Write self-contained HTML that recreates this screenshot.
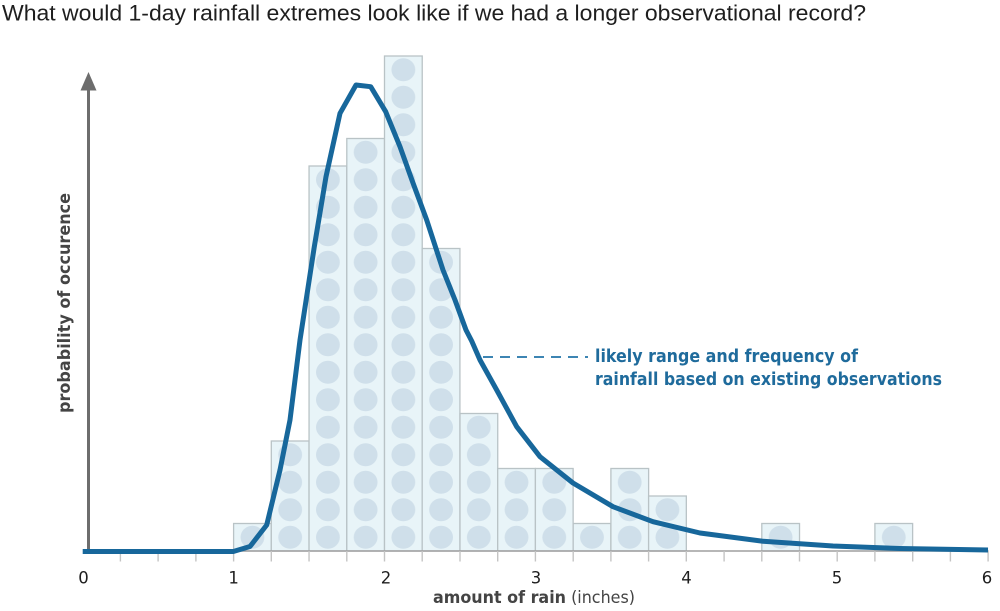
<!DOCTYPE html>
<html>
<head>
<meta charset="utf-8">
<style>
  html,body{margin:0;padding:0;background:#fff;}
  svg{display:block;}
</style>
</head>
<body>
<svg width="1000" height="611" viewBox="0 0 1000 611" xmlns="http://www.w3.org/2000/svg">
  <defs>
    <pattern id="p" patternUnits="userSpaceOnUse" x="233.6" y="551" width="37.725" height="27.5">
      <rect x="0" y="0" width="37.725" height="27.5" fill="#e8f4f8"/>
      <ellipse cx="18.86" cy="13.75" rx="11.9" ry="11.5" fill="#cfdfea"/>
    </pattern>
  </defs>

  <!-- Title -->
  <text x="2" y="20.7" font-family="Liberation Sans, DejaVu Sans, sans-serif" font-size="22" fill="#1e1e1e" textLength="864" lengthAdjust="spacingAndGlyphs">What would 1-day rainfall extremes look like if we had a longer observational record?</text>

  <!-- Bars -->
  <g stroke="#b9c3c6" stroke-width="1.3" fill="url(#p)">
    <rect x="233.6" y="523.5" width="37.725" height="27.5"/>
    <rect x="271.3" y="441" width="37.725" height="110"/>
    <rect x="309.05" y="166" width="37.725" height="385"/>
    <rect x="346.8" y="138.5" width="37.725" height="412.5"/>
    <rect x="384.5" y="56" width="37.725" height="495"/>
    <rect x="422.2" y="248.5" width="37.725" height="302.5"/>
    <rect x="460.0" y="413.5" width="37.725" height="137.5"/>
    <rect x="497.7" y="468.5" width="37.725" height="82.5"/>
    <rect x="535.4" y="468.5" width="37.725" height="82.5"/>
    <rect x="573.2" y="523.5" width="37.725" height="27.5"/>
    <rect x="610.9" y="468.5" width="37.725" height="82.5"/>
    <rect x="648.6" y="496" width="37.725" height="55"/>
    <rect x="761.8" y="523.5" width="37.725" height="27.5"/>
    <rect x="874.9" y="523.5" width="37.725" height="27.5"/>
  </g>

  <!-- Baseline and ticks -->
  <line x1="86" y1="551" x2="988.5" y2="551" stroke="#9f9f9f" stroke-width="1.6"/>
  <g stroke="#c4c4c4" stroke-width="1.4">
    <line x1="120.4" y1="551" x2="120.4" y2="561.5"/>
    <line x1="158.1" y1="551" x2="158.1" y2="561.5"/>
    <line x1="195.9" y1="551" x2="195.9" y2="561.5"/>
    <line x1="233.6" y1="551" x2="233.6" y2="561.5"/>
    <line x1="271.3" y1="551" x2="271.3" y2="561.5"/>
    <line x1="309.05" y1="551" x2="309.05" y2="561.5"/>
    <line x1="346.8" y1="551" x2="346.8" y2="561.5"/>
    <line x1="384.5" y1="551" x2="384.5" y2="561.5"/>
    <line x1="422.2" y1="551" x2="422.2" y2="561.5"/>
    <line x1="460.0" y1="551" x2="460.0" y2="561.5"/>
    <line x1="497.7" y1="551" x2="497.7" y2="561.5"/>
    <line x1="535.4" y1="551" x2="535.4" y2="561.5"/>
    <line x1="573.2" y1="551" x2="573.2" y2="561.5"/>
    <line x1="610.9" y1="551" x2="610.9" y2="561.5"/>
    <line x1="648.6" y1="551" x2="648.6" y2="561.5"/>
    <line x1="686.3" y1="551" x2="686.3" y2="561.5"/>
    <line x1="724.1" y1="551" x2="724.1" y2="561.5"/>
    <line x1="761.8" y1="551" x2="761.8" y2="561.5"/>
    <line x1="799.5" y1="551" x2="799.5" y2="561.5"/>
    <line x1="837.2" y1="551" x2="837.2" y2="561.5"/>
    <line x1="874.9" y1="551" x2="874.9" y2="561.5"/>
    <line x1="912.7" y1="551" x2="912.7" y2="561.5"/>
    <line x1="950.4" y1="551" x2="950.4" y2="561.5"/>
    <line x1="988.1" y1="551" x2="988.1" y2="561.5"/>
  </g>

  <!-- Tick labels -->
  <g font-family="DejaVu Sans, Liberation Sans, sans-serif" font-size="16.5" fill="#1e1e1e" text-anchor="middle">
    <text x="83.5" y="583.5">0</text>
    <text x="233.6" y="583.5">1</text>
    <text x="386" y="583.5">2</text>
    <text x="536" y="583.5">3</text>
    <text x="686.5" y="583.5">4</text>
    <text x="837" y="583.5">5</text>
    <text x="987" y="583.5">6</text>
  </g>

  <!-- X axis title -->
  <text x="433" y="603" font-family="DejaVu Sans, Liberation Sans, sans-serif" font-size="17" fill="#444" textLength="202" lengthAdjust="spacingAndGlyphs"><tspan font-weight="bold">amount of rain</tspan> (inches)</text>

  <!-- Y axis -->
  <line x1="88.5" y1="88" x2="88.5" y2="552" stroke="#6d6d6d" stroke-width="3"/>
  <polygon points="80.5,90.5 96.5,90.5 88.5,72" fill="#6d6d6d"/>

  <!-- Y axis title -->
  <text transform="translate(70,303) rotate(-90)" text-anchor="middle" font-family="DejaVu Sans, Liberation Sans, sans-serif" font-size="17" font-weight="bold" fill="#444" textLength="220" lengthAdjust="spacingAndGlyphs">probability of occurence</text>

  <!-- Curve -->
  <polyline fill="none" stroke="#17679b" stroke-width="5" stroke-linejoin="round" stroke-linecap="butt"
    points="82.7,551.5 233.3,551.5 250,546.5 266.7,525 280,470 290,420 300,340 314.3,246.7 326,176.7 340,113.3 356,85 370.7,86.7 385.7,111.7 400,146.7 413,183 426.7,220 443,270 455,300 466,330 471.7,341 480,360 496.7,390 516.7,426.7 540,456.7 573,483 613,506.7 653,521.7 700,533 763,541.3 833,546 900,548.5 988,550"/>

  <!-- Annotation -->
  <line x1="483" y1="357" x2="588" y2="357" stroke="#3d85b3" stroke-width="2" stroke-dasharray="10 7"/>
  <g font-family="DejaVu Sans, Liberation Sans, sans-serif" font-size="17.5" font-weight="bold" fill="#1f6b9c">
    <text x="595" y="362" textLength="263" lengthAdjust="spacingAndGlyphs">likely range and frequency of</text>
    <text x="595" y="385" textLength="347" lengthAdjust="spacingAndGlyphs">rainfall based on existing observations</text>
  </g>
</svg>
</body>
</html>
